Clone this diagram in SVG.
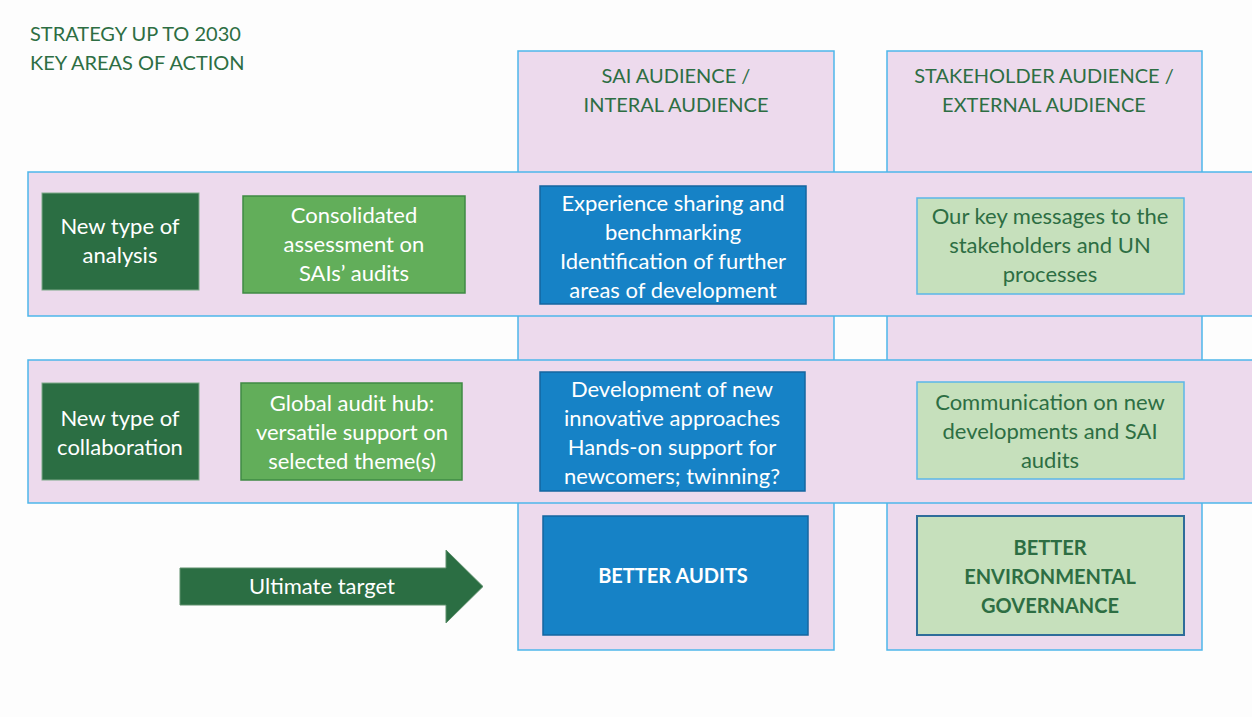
<svg xmlns="http://www.w3.org/2000/svg" width="1252" height="717" viewBox="0 0 1252 717">
<style>
.t{font-family:Lato,"Liberation Sans",sans-serif;font-size:20px;text-anchor:middle}
.s{font-size:22px}
.w{fill:#ffffff}
.g{fill:#2D6E43}
.b{font-weight:bold}
.col{fill:#EDDAED;stroke:#4DB6EA;stroke-width:1.5}
.band{fill:#EDDAED;stroke:#4DB6EA;stroke-width:1.5}
.dk{fill:#2B6E43;stroke:#7FA98A;stroke-width:1}
.md{fill:#62AE5A;stroke:#3F8A44;stroke-width:1.5}
.bl{fill:#1682C6;stroke:#1466A0;stroke-width:1.5}
.lg{fill:#C6E0BC;stroke:#5BB7E8;stroke-width:1.5}
.lg2{fill:#C6E0BC;stroke:#2F6D9A;stroke-width:2}
</style>
<rect width="1252" height="717" fill="#FDFDFD"/>
<g id="title">
<text class="t g" x="30" y="41" style="text-anchor:start">STRATEGY UP TO 2030</text>
<text class="t g" x="30" y="70" style="text-anchor:start">KEY AREAS OF ACTION</text>
</g>
<g id="col-sai">
<rect class="col" x="518" y="51" width="316" height="599"/>
<text class="t g" x="676" y="83">SAI AUDIENCE /</text>
<text class="t g" x="676" y="112">INTERAL AUDIENCE</text>
</g>
<g id="col-stakeholder">
<rect class="col" x="887" y="51" width="315" height="599"/>
<text class="t g" x="1044" y="83">STAKEHOLDER AUDIENCE /</text>
<text class="t g" x="1044" y="112">EXTERNAL AUDIENCE</text>
</g>
<g id="band-analysis"><rect class="band" x="28" y="172" width="1230" height="144"/></g>
<g id="band-collaboration"><rect class="band" x="28" y="360" width="1230" height="143"/></g>
<g id="n-analysis">
<rect class="dk" x="42" y="193" width="157" height="97"/>
<text class="t s w" x="120" y="234">New type of</text>
<text class="t s w" x="120" y="263">analysis</text>
</g>
<g id="n-consolidated">
<rect class="md" x="243" y="196" width="222" height="97"/>
<text class="t s w" x="354" y="223">Consolidated</text>
<text class="t s w" x="354" y="252">assessment on</text>
<text class="t s w" x="354" y="281">SAIs’ audits</text>
</g>
<g id="n-experience">
<rect class="bl" x="540" y="186" width="266" height="118"/>
<text class="t s w" x="673" y="211">Experience sharing and</text>
<text class="t s w" x="673" y="240">benchmarking</text>
<text class="t s w" x="673" y="269">Identification of further</text>
<text class="t s w" x="673" y="298">areas of development</text>
</g>
<g id="n-keymessages">
<rect class="lg" x="917" y="198" width="267" height="96"/>
<text class="t s g" x="1050" y="224">Our key messages to the</text>
<text class="t s g" x="1050" y="253">stakeholders and UN</text>
<text class="t s g" x="1050" y="282">processes</text>
</g>
<g id="n-collaboration">
<rect class="dk" x="42" y="383" width="157" height="97"/>
<text class="t s w" x="120" y="426">New type of</text>
<text class="t s w" x="120" y="455">collaboration</text>
</g>
<g id="n-hub">
<rect class="md" x="241" y="383" width="221" height="97"/>
<text class="t s w" x="352" y="411">Global audit hub:</text>
<text class="t s w" x="352" y="440">versatile support on</text>
<text class="t s w" x="352" y="469">selected theme(s)</text>
</g>
<g id="n-development">
<rect class="bl" x="540" y="372" width="265" height="119"/>
<text class="t s w" x="672" y="397">Development of new</text>
<text class="t s w" x="672" y="426">innovative approaches</text>
<text class="t s w" x="672" y="455">Hands-on support for</text>
<text class="t s w" x="672" y="484">newcomers; twinning?</text>
</g>
<g id="n-communication">
<rect class="lg" x="917" y="382" width="267" height="97"/>
<text class="t s g" x="1050" y="410">Communication on new</text>
<text class="t s g" x="1050" y="439">developments and SAI</text>
<text class="t s g" x="1050" y="468">audits</text>
</g>
<g id="n-target">
<polygon points="180,568 446,568 446,550 483,586.5 446,623 446,605 180,605" fill="#2B6E43" stroke="#5E8F6C" stroke-width="1"/>
<text class="t s w" x="322" y="594">Ultimate target</text>
</g>
<g id="n-better-audits">
<rect class="bl" x="543" y="516" width="265" height="119"/>
<text class="t w b" x="673" y="583">BETTER AUDITS</text>
</g>
<g id="n-better-governance">
<rect class="lg2" x="917" y="516" width="267" height="119"/>
<text class="t g b" x="1050" y="555">BETTER</text>
<text class="t g b" x="1050" y="584">ENVIRONMENTAL</text>
<text class="t g b" x="1050" y="613">GOVERNANCE</text>
</g>
<g id="connectors"></g>
</svg>
